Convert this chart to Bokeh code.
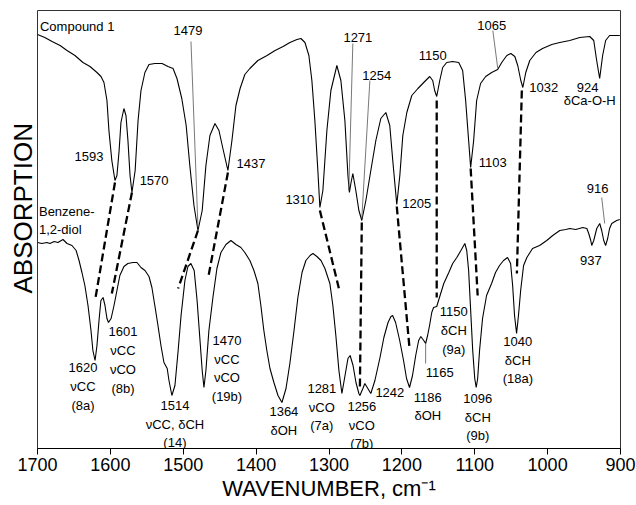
from bokeh.plotting import figure
from bokeh.models import Range1d, ColumnDataSource, FixedTicker, Title
from bokeh.core.properties import value
from bokeh.embed import file_html
from bokeh.resources import INLINE

FONT = "Liberation Sans"

# ---------------- data ----------------
# Compound 1 spectrum (wavenumber, absorption offset units)
TOP_WN = [1700, 1690, 1680, 1669, 1659.5, 1648.6, 1637.6, 1628, 1618.4, 1612.9, 1608.8, 1604.7,
          1602, 1598, 1593.7, 1591, 1588, 1585.5, 1581.4, 1578.6, 1575.9, 1573, 1570.4, 1566,
          1562, 1558, 1552.6, 1547, 1539, 1529, 1521, 1514, 1508.6, 1502, 1496, 1491, 1485.3,
          1479.8, 1474, 1468.9, 1463.4, 1456.5, 1451, 1445.6, 1438.7, 1433.2, 1427.7, 1422,
          1415.5, 1408.6, 1397.6, 1385, 1374, 1363, 1353.6, 1344, 1338.5, 1333, 1327.6, 1323.5,
          1319.4, 1315.3, 1312.5, 1308.4, 1302.9, 1297.4, 1289.2, 1283.7, 1278.2, 1274, 1272,
          1270, 1267.3, 1263.2, 1259, 1255, 1249.4, 1242.6, 1235.7, 1228.9, 1222, 1216.6, 1212.5,
          1207, 1202.8, 1198.7, 1193.2, 1186.4, 1178, 1170, 1161.8, 1157.7, 1155, 1152.2, 1148,
          1144, 1138.5, 1130.3, 1122, 1116.6, 1112.5, 1108.4, 1105.6, 1101.5, 1097.4, 1092, 1085,
          1076.8, 1068.5, 1063, 1056, 1050.5, 1045, 1041, 1036.8, 1034, 1030, 1024.5, 1016, 1007,
          994.3, 983.3, 969.6, 955.9, 942.2, 936.7, 932.7, 928.6, 924.5, 920.4, 915, 909.5, 901]
TOP_A = [414, 411, 407, 403, 398, 393, 386, 382, 376, 372, 366, 348,
         318, 288, 268, 273, 298, 326, 340, 333, 308, 273, 256, 278,
         328, 358, 376, 384, 385, 385, 382, 380, 370, 350, 323, 283, 243,
         218, 238, 283, 313, 325, 318, 300, 278, 308, 343, 360,
         374, 380, 388, 393, 398, 402, 406, 409, 410, 406, 393, 368,
         328, 278, 241, 258, 318, 358, 383, 368, 328, 273, 256,
         265, 275, 258, 238, 228, 248, 278, 308, 330, 336, 323, 288,
         244, 273, 313, 336, 353, 360, 366, 372, 368, 358, 352, 368,
         381, 386, 387, 386, 378, 348, 308, 281, 308, 348, 365, 372,
         376, 379, 386, 393, 395, 392, 383, 368, 361, 376, 388, 396, 400,
         404, 406, 408, 411, 412, 408, 388, 370, 393, 408, 413, 413, 413]

# Benzene-1,2-diol spectrum
BOT_WN = [1700, 1694, 1687, 1683, 1677, 1672, 1665, 1659.5, 1652.7, 1647, 1643, 1639, 1635,
          1630.7, 1626.6, 1624, 1621, 1618.4, 1615.6, 1613, 1610, 1607.4, 1604.7, 1602.6, 1599,
          1595, 1591, 1587, 1581.4, 1576, 1569, 1563.5, 1558, 1552.5, 1547, 1543, 1539, 1534.7,
          1530.6, 1526.5, 1522, 1519.6, 1515.6, 1511.4, 1507, 1503, 1497.7, 1493.6, 1489.5, 1485,
          1481, 1477, 1474, 1471.6, 1468.9, 1464.8, 1459.3, 1453.8, 1448.3, 1441.4, 1434.6,
          1427.7, 1420.9, 1415.5, 1408.6, 1403, 1397.6, 1393.5, 1389.4, 1385.3, 1381, 1375.6,
          1370, 1364.6, 1359, 1353.7, 1348, 1342.7, 1337, 1331.7, 1326, 1322, 1316.6, 1311,
          1305.6, 1298.8, 1294.7, 1290.6, 1286.4, 1282.3, 1278, 1274, 1271, 1267, 1263, 1259,
          1257.6, 1253.5, 1250.8, 1246.7, 1242.6, 1237, 1230, 1224.7, 1219, 1215, 1212.7, 1208.6,
          1203, 1197.7, 1193.6, 1189.5, 1185.4, 1181, 1177, 1174, 1170, 1167.4, 1164.7, 1162,
          1159, 1156.5, 1152.2, 1148, 1142.5, 1135.6, 1130.3, 1124.6, 1119, 1113.6, 1111, 1108.4,
          1105.6, 1102.8, 1100, 1098, 1096, 1093.4, 1089.3, 1083.8, 1076.9, 1071.5, 1066, 1060.5,
          1055, 1050.8, 1048, 1045.4, 1042.6, 1040, 1037, 1033, 1028.5, 1020.7, 1011, 1001.2,
          993, 983.3, 975, 969.6, 961.3, 951.7, 946.2, 943.6, 940.8, 939.5, 936.7, 932.6, 928.5,
          925.8, 923, 920.4, 917.6, 915, 912, 905.3, 901]
BOT_A = [206, 205, 206, 205, 207, 206, 209, 205, 203, 198, 188, 176, 163,
         143, 118, 98, 88, 103, 128, 148, 151, 143, 130, 126, 130,
         143, 158, 173, 182, 185, 186, 186, 181, 178, 172, 161, 143, 123,
         103, 86, 80, 68, 53, 63, 98, 133, 168, 182, 185, 178,
         148, 108, 78, 61, 78, 118, 151, 180, 196, 204, 208,
         204, 201, 196, 188, 178, 165, 143, 118, 98, 80, 66,
         53, 46, 60, 85, 118, 151, 176, 188, 193, 195, 192, 188,
         180, 165, 143, 113, 78, 55, 73, 90, 93, 83, 66, 55,
         53, 60, 65, 60, 55, 68, 91, 111, 126, 132, 133, 126,
         108, 88, 70, 61, 73, 93, 108, 112, 108, 105, 113, 123,
         136, 141, 142, 152, 165, 176, 185, 191, 198, 205, 198, 178,
         138, 98, 70, 61, 70, 98, 130, 153, 165, 176, 183, 188,
         191, 185, 163, 133, 115, 133, 158, 183, 191, 200, 203, 208,
         213, 218, 219, 220, 219, 221, 220, 215, 208, 203, 208, 220, 225,
         218, 208, 203, 210, 220, 225, 228, 229]

# dashed correlation lines: (wn, absorption) start -> end
DASH_WN0 = [1593.7, 1570.4, 1479.8, 1438.7, 1312.5, 1255.0, 1207.0, 1152.2, 1105.6, 1035.4]
DASH_A0 = [266, 256, 218, 276, 238, 226, 242, 348, 280, 358]
DASH_WN1 = [1621.0, 1598.0, 1507.0, 1466.0, 1286.4, 1257.6, 1189.5, 1152.2, 1096.0, 1042.2]
DASH_A1 = [148, 155, 160, 170, 160, 61, 100, 151, 153, 175]

# thin leader lines
LEAD_WN0 = [1489.4, 1267.3, 1243.9, 1075.2, 925.8, 1167.4]
LEAD_A0 = [407, 405, 368, 418, 251, 105]
LEAD_WN1 = [1479.8, 1272.8, 1255.0, 1068.4, 921.7, 1167.4]
LEAD_A1 = [221, 258, 230, 380, 225, 85]

# peak annotations (centered)
PEAK_TEXT = ["1479", "1593", "1570", "1437", "1310", "1271", "1254", "1150", "1065", "1032",
             "924", "δCa-O-H", "1103", "1205", "916",
             "1620\nνCC\n(8a)", "1601\nνCC\nνCO\n(8b)", "1514\nνCC, δCH\n(14)",
             "1470\nνCC\nνCO\n(19b)", "1364\nδOH", "1281\nνCO\n(7a)", "1256\nνCO\n(7b)",
             "1242", "1186\nδOH", "1165", "1150\nδCH\n(9a)", "1096\nδCH\n(9b)",
             "1040\nδCH\n(18a)", "937"]
PEAK_WN = [1493.6, 1629.3, 1540.0, 1407.0, 1340.0, 1260.4, 1234.4, 1157.6, 1076.6, 1005.3,
           945.0, 942.2, 1075.2, 1179.6, 931.3,
           1637.6, 1582.7, 1511.4,
           1440.0, 1361.9, 1309.8, 1254.9,
           1216.5, 1164.4, 1148.0, 1128.7, 1095.8,
           1040.9, 940.8]
PEAK_A = [418, 292, 268, 285, 249, 411, 373, 393, 423, 361,
          361, 348, 286, 245, 260,
          62, 88.5, 24.5,
          80, 27.5, 41.5, 23.5,
          56, 42, 76, 118, 31.5,
          88.5, 188]

# series names (left aligned)
NAME_TEXT = ["Compound 1", "Benzene-\n1,2-diol"]
NAME_WN = [1696.6, 1698.0]
NAME_A = [422, 228]

X_TICKS = [1700, 1600, 1500, 1400, 1300, 1200, 1100, 1000, 900]

# ---------------- figure ----------------
p = figure(width=636, height=505, x_range=Range1d(1700, 900), y_range=Range1d(0, 438),
           output_backend="svg", toolbar_location=None,
           min_border_left=37, min_border_right=16, min_border_top=10, min_border_bottom=57)
p.background_fill_color = "white"
p.border_fill_color = "white"
p.outline_line_color = "#333333"
p.outline_line_width = 1
p.xgrid.visible = False
p.ygrid.visible = False

ax = p.xaxis[0]
ax.ticker = FixedTicker(ticks=X_TICKS)
ax.minor_tick_line_color = None
ax.major_tick_in = 0
ax.major_tick_out = 6
ax.axis_line_color = "black"
ax.major_tick_line_color = "black"
ax.major_label_standoff = 3
ax.major_label_text_font = FONT
ax.major_label_text_font_size = "18px"
ax.major_label_text_color = "black"
ax.axis_label = "WAVENUMBER, cm⁻¹"
ax.axis_label_text_font = FONT
ax.axis_label_text_font_size = "22px"
ax.axis_label_text_font_style = "normal"
ax.axis_label_text_color = "black"
ax.axis_label_standoff = 2

p.yaxis.visible = False

p.add_layout(Title(text="ABSORPTION", align="left", offset=155, standoff=0,
                   text_font=FONT, text_font_size="26px", text_font_style="normal",
                   text_color="black"), "left")

# spectra
p.line(TOP_WN, TOP_A, line_color="black", line_width=1.1)
p.line(BOT_WN, BOT_A, line_color="black", line_width=1.1)

# dashed correlation lines
p.segment(x0=DASH_WN0, y0=DASH_A0, x1=DASH_WN1, y1=DASH_A1, line_color="black",
          line_width=2.3, line_dash="8 4")

# leaders
p.segment(x0=LEAD_WN0, y0=LEAD_A0, x1=LEAD_WN1, y1=LEAD_A1, line_color="#555555",
          line_width=0.8)

peaks = ColumnDataSource(dict(x=PEAK_WN, y=PEAK_A, t=PEAK_TEXT))
p.text(x="x", y="y", text="t", source=peaks, text_font=value(FONT),
       text_font_size=value("13px"), text_align="center", text_baseline="middle",
       text_line_height=1.25, text_color="black")

names = ColumnDataSource(dict(x=NAME_WN, y=NAME_A, t=NAME_TEXT))
p.text(x="x", y="y", text="t", source=names, text_font=value(FONT),
       text_font_size=value("13px"), text_align="left", text_baseline="middle",
       text_line_height=1.25, text_color="black")

open("out.html", "w").write(file_html(p, INLINE))
